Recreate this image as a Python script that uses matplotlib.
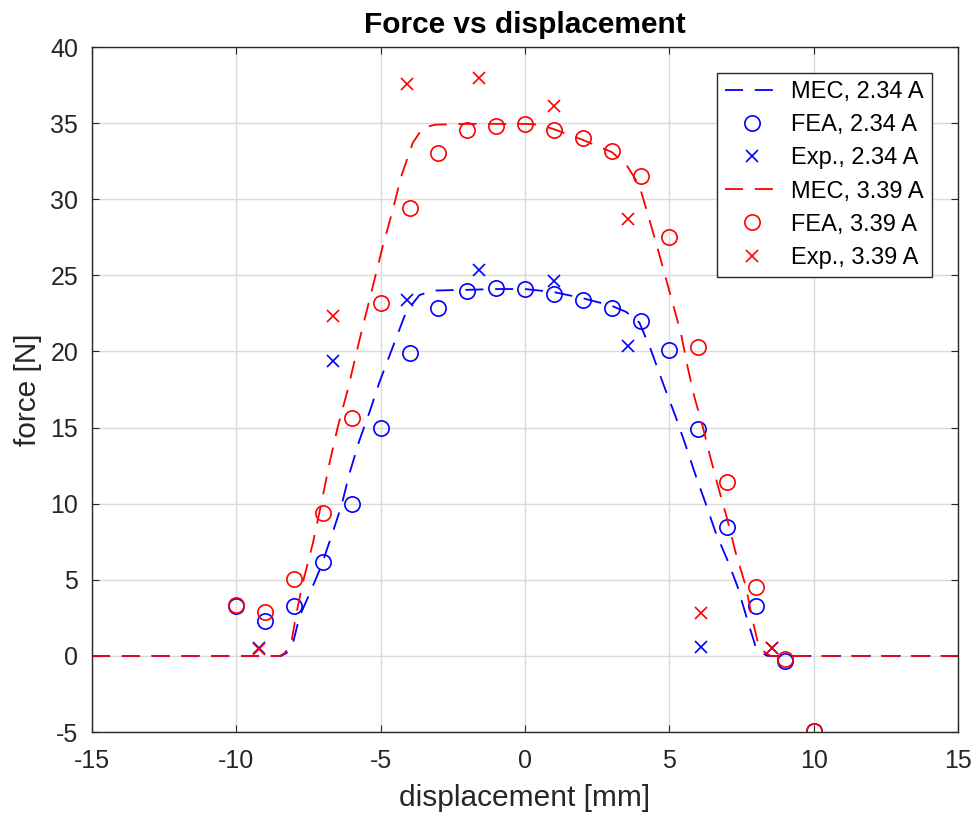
import matplotlib
matplotlib.use('Agg')
import matplotlib.pyplot as plt

plt.rcParams['font.family'] = ['Liberation Sans', 'DejaVu Sans']
plt.rcParams['axes.unicode_minus'] = False

# FEA points (integer displacements)
fea_x = [-10, -9, -8, -7, -6, -5, -4, -3, -2, -1, 0, 1, 2, 3, 4, 5, 6, 7, 8, 9, 10]
fea_234 = [3.3, 2.3, 3.25, 6.15, 10.0, 15.0, 19.9, 22.85, 23.95, 24.2, 24.1,
           23.75, 23.4, 22.85, 22.0, 20.1, 14.9, 8.45, 3.25, -0.35, -4.93]
fea_339 = [3.35, 2.9, 5.07, 9.4, 15.6, 23.2, 29.4, 33.05, 34.55, 34.8, 34.95,
           34.55, 34.0, 33.15, 31.5, 27.5, 20.3, 11.45, 4.55, -0.2, -4.93]

# experimental points
exp_x = [-9.2, -6.65, -4.1, -1.6, 1.0, 3.55, 6.1, 8.55]
exp_234 = [0.5, 19.35, 23.4, 25.35, 24.6, 20.35, 0.57, 0.5]
exp_339 = [0.45, 22.3, 37.55, 37.95, 36.15, 28.7, 2.8, 0.5]

# MEC curves
mec_x_234 = [-15, -8.45, -8.27, -8.04, -7.81, -7.46, -7.06, -6.71, -6.37, -6.08,
             -5.73, -5.39, -5.04, -4.58, -4.12, -3.66, -3.2, -2, -1, 0, 1, 2, 3,
             3.5, 3.96, 4.36, 4.82, 5.22, 5.57, 5.92, 6.26, 6.61, 7.01, 7.36,
             7.7, 7.99, 8.22, 8.4, 15]
mec_234 = [0, 0, 0.18, 0.84, 2.6, 4.1, 5.9, 7.85, 9.8, 12.0, 14.2, 16.0, 18.0,
           20.3, 22.6, 23.7, 24.0, 24.05, 24.1, 24.1, 23.9, 23.5, 23.0, 22.6,
           21.9, 20.1, 17.7, 15.7, 13.8, 11.8, 10.0, 8.07, 6.3, 4.56, 2.37,
           0.6, 0.18, 0, 0]
mec_x_339 = [-15, -8.5, -8.33, -8.1, -7.92, -7.7, -7.35, -7.06, -6.77, -6.48,
             -6.14, -5.73, -5.27, -4.93, -4.58, -4.29, -3.89, -3.54, -3.1, -2,
             -1, 0, 0.5, 1, 2, 3, 3.5, 3.96, 4.24, 4.53, 4.82, 5.11, 5.4, 5.63,
             5.86, 6.15, 6.44, 6.72, 7.01, 7.3, 7.65, 7.88, 8.1, 8.34, 8.5, 15]
mec_339 = [0, 0, 0.18, 0.84, 2.8, 4.8, 7.4, 10.0, 12.7, 15.1, 17.5, 20.8, 24.3,
           26.9, 29.3, 31.5, 33.7, 34.7, 34.9, 34.95, 34.95, 34.95, 34.9, 34.6,
           33.9, 33.1, 32.3, 30.9, 29.1, 27.2, 25.2, 23.2, 21.2, 19.0, 17.06,
           15.1, 12.9, 10.9, 8.95, 6.76, 4.56, 2.37, 0.6, 0.18, 0, 0]

fig = plt.figure(figsize=(9.76, 8.19), dpi=100)
ax = fig.add_axes([0.0943, 0.1062, 0.8873, 0.8364])

dash = (10, 6.5)
ax.plot(mec_x_234, mec_234, color='#0000ff', lw=1.3, dashes=dash, label='MEC, 2.34 A')
ax.plot(fea_x, fea_234, 'o', ms=11, mfc='none', mec='#0000ff', mew=1.2, label='FEA, 2.34 A')
ax.plot(exp_x, exp_234, 'x', ms=8, mec='#0000ff', mew=1.2, label='Exp., 2.34 A')
ax.plot(mec_x_339, mec_339, color='#ff0000', lw=1.3, dashes=dash, label='MEC, 3.39 A')
ax.plot(fea_x, fea_339, 'o', ms=11, mfc='none', mec='#ff0000', mew=1.2, label='FEA, 3.39 A')
ax.plot(exp_x, exp_339, 'x', ms=8, mec='#ff0000', mew=1.2, label='Exp., 3.39 A')

ax.set_xlim(-15, 15)
ax.set_ylim(-5, 40)
ax.set_xticks(range(-15, 16, 5))
ax.set_yticks(range(-5, 41, 5))
ax.grid(True, color='#dadada', lw=1)
ax.set_axisbelow(True)
for s in ax.spines.values():
    s.set_color('#262626')
    s.set_linewidth(1.0)
ax.tick_params(direction='in', length=5, width=0.8, top=True, right=True,
               labelsize=18, colors='#262626')
ax.tick_params(axis='x', pad=12)
ax.tick_params(axis='y', pad=10)

ax.set_xlabel('displacement [mm]', fontsize=21.5, color='#262626', labelpad=8)
ax.set_ylabel('force [N]', fontsize=21.5, color='#262626', labelpad=6)
ax.set_title('Force vs displacement', fontsize=21.5, fontweight='bold', pad=10)

leg = ax.legend(loc='upper right', bbox_to_anchor=(0.970, 0.962), borderaxespad=0,
                fontsize=17, fancybox=False, edgecolor='#262626', framealpha=1,
                handlelength=2.3, handletextpad=0.5, labelspacing=0.47,
                borderpad=0.35)
leg.get_frame().set_linewidth(1.0)

fig.savefig('out.png', dpi=100)
